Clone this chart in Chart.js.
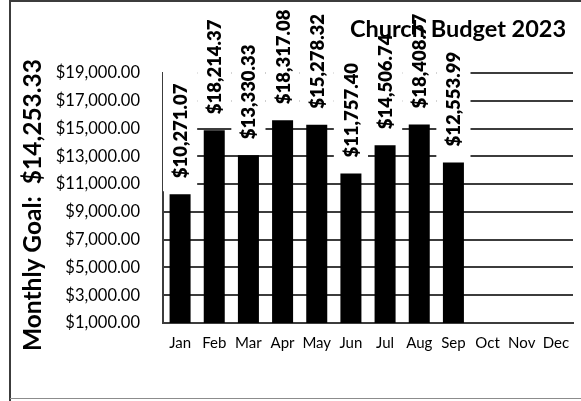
<!DOCTYPE html>
<html>
<head>
<meta charset="utf-8">
<script src="https://cdn.jsdelivr.net/npm/chart.js@4.4.0/dist/chart.umd.min.js"></script>
<style>
  html, body { margin: 0; padding: 0; background: #fff; }
  #wrap { position: relative; width: 581px; height: 401px; }
</style>
</head>
<body>
<div id="wrap"><canvas id="budgetChart"></canvas></div>
<script>
// --- datos del gráfico ---
const months = ['Jan', 'Feb', 'Mar', 'Apr', 'May', 'Jun', 'Jul', 'Aug', 'Sep', 'Oct', 'Nov', 'Dec'];
// altura de las barras
const barValues = [10271, 14880, 13080, 15600, 15278, 11757, 13800, 15300, 12554, null, null, null];
// valores impresos encima de cada barra
const labelValues = [10271.07, 18214.37, 13330.33, 18317.08, 15278.32, 11757.40, 14506.74, 18408.77, 12553.99, null, null, null];
const yMin = 1000;
const yMax = 19000;
const yStep = 2000;
const chartTitle = 'Church Budget 2023';
const goalTitle = 'Monthly Goal:  $14,253.33';

const FONT = 'Lato, Carlito, sans-serif';
const money = v => '$' + v.toLocaleString('en-US', { minimumFractionDigits: 2, maximumFractionDigits: 2 });

// fondo
const background = {
  id: 'background',
  beforeDraw(chart) {
    const ctx = chart.ctx;
    ctx.save();
    ctx.fillStyle = '#fff';
    ctx.fillRect(0, 0, chart.width, chart.height);
    ctx.restore();
  }
};

// etiquetas verticales con fondo blanco
const barLabels = {
  id: 'barLabels',
  afterDatasetsDraw(chart) {
    const ctx = chart.ctx;
    const meta = chart.getDatasetMeta(0);
    const colW = chart.scales.x.width / months.length;
    ctx.save();
    ctx.font = '800 18.5px ' + FONT;
    meta.data.forEach((bar, i) => {
      if (labelValues[i] == null || barValues[i] == null) return;
      const text = money(labelValues[i]);
      const w = ctx.measureText(text).width;
      const bottom = bar.y - 16;
      ctx.fillStyle = '#fff';
      ctx.fillRect(bar.x - colW / 2, bottom - w - 12, colW, w + 25);
      ctx.save();
      ctx.translate(bar.x + 1, bottom);
      ctx.rotate(-Math.PI / 2);
      ctx.fillStyle = '#000';
      ctx.textAlign = 'left';
      ctx.textBaseline = 'middle';
      ctx.fillText(text, 0, 0);
      ctx.restore();
    });
    ctx.restore();
  }
};

// marco exterior y títulos
const titles = {
  id: 'titles',
  afterDraw(chart) {
    const ctx = chart.ctx;
    ctx.save();
    ctx.fillStyle = '#3c3c3c';
    ctx.fillRect(10, 0, chart.width - 10, 2);
    ctx.fillRect(9, 0, 2, chart.height);
    ctx.fillStyle = '#8c8c8c';
    ctx.fillRect(10, 398, chart.width - 10, 1);

    ctx.fillStyle = '#000';
    ctx.font = 'bold 23.5px ' + FONT;
    ctx.textAlign = 'center';
    ctx.textBaseline = 'alphabetic';
    ctx.fillText(chartTitle, 458, 37);

    ctx.translate(41, 205);
    ctx.rotate(-Math.PI / 2);
    ctx.font = 'bold 24.5px ' + FONT;
    ctx.fillText(goalTitle, 0, 0);
    ctx.restore();
  }
};

const ctx = document.getElementById('budgetChart').getContext('2d');
const budgetChart = new Chart(ctx, {
  type: 'bar',
  data: {
    labels: months,
    datasets: [{
      data: barValues,
      backgroundColor: '#000',
      borderWidth: 0,
      categoryPercentage: 1,
      barPercentage: 0.615
    }]
  },
  options: {
    responsive: true,
    maintainAspectRatio: false,
    animation: false,
    devicePixelRatio: 1,
    layout: { padding: { top: 73, right: 8, left: 0, bottom: 0 } },
    plugins: {
      legend: { display: false },
      title: { display: false },
      tooltip: { enabled: false }
    },
    scales: {
      x: {
        grid: { display: false, drawTicks: false },
        border: { display: true, color: '#3c3c3c', width: 2 },
        ticks: { color: '#000', font: { family: FONT, size: 15 }, padding: 11, maxRotation: 0, autoSkip: false },
        afterFit(scale) { scale.height = 78; }
      },
      y: {
        min: yMin,
        max: yMax,
        grid: { color: '#3c3c3c', lineWidth: 2, drawTicks: false },
        border: { display: true, color: '#3c3c3c', width: 2 },
        ticks: {
          stepSize: yStep,
          color: '#000',
          padding: 23,
          font: { family: FONT, size: 16.5 },
          callback: v => money(v)
        },
        afterFit(scale) { scale.width = 163; }
      }
    }
  },
  plugins: [background, barLabels, titles]
});
</script>
</body>
</html>
